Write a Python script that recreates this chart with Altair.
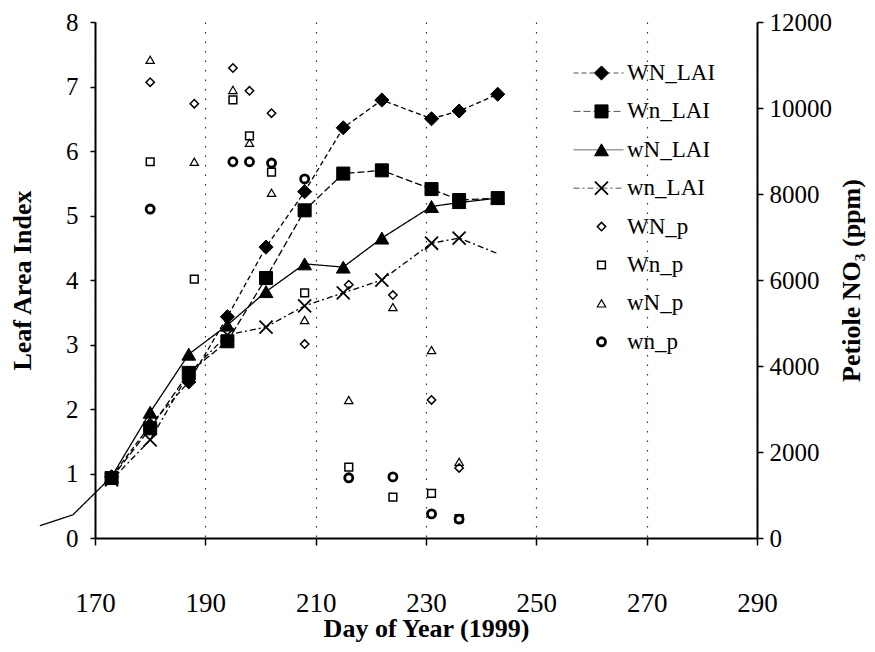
import altair as alt
import pandas as pd

FONT = "Liberation Serif"

# ---------------- data ----------------
lai_series = ["WN_LAI", "Wn_LAI", "wN_LAI", "wn_LAI"]
p_series = ["WN_p", "Wn_p", "wN_p", "wn_p"]

lai_days = [173, 180, 187, 194, 201, 208, 215, 222, 231, 236, 243]
WN_LAI = [0.95, 1.75, 2.42, 3.43, 4.51, 5.37, 6.36, 6.79, 6.50, 6.62, 6.88]
Wn_LAI = [0.93, 1.70, 2.56, 3.05, 4.03, 5.08, 5.65, 5.70, 5.41, 5.24, 5.27]
wN_LAI = [0.95, 1.95, 2.85, 3.30, 3.82, 4.25, 4.20, 4.65, 5.14, 5.20, 5.27]
wn_LAI = [0.90, 1.52, 2.55, 3.15, 3.27, 3.60, 3.80, 4.00, 4.57, 4.65, 4.41]

# early part of the curve drawn before day 170 (no markers)
lead_days = [160, 166]
lead_LAI = [0.19, 0.36]

p_days = [180, 188, 195, 198, 202, 208, 216, 224, 231, 236]
WN_p = [10600, 10100, 10930, 10400, 9880, 4510, 5890, 5650, 3210, 1630]
Wn_p = [8750, 6020, 10190, 9350, 8510, 5700, 1650, 950, 1040, 450]
wN_p = [11120, 8750, 10420, 9190, 8030, 5070, 3210, 5370, 4370, 1770]
wn_p = [7650, None, 8750, 8750, 8720, 8350, 1400, 1420, 560, 440]

x_ticks = [170, 190, 210, 230, 250, 270, 290]
lai_ticks = [0, 1, 2, 3, 4, 5, 6, 7, 8]
p_ticks = [0, 2000, 4000, 6000, 8000, 10000, 12000]

# ---------------- tables ----------------
lai_vals = dict(zip(lai_series, [WN_LAI, Wn_LAI, wN_LAI, wn_LAI]))
p_vals = dict(zip(p_series, [WN_p, Wn_p, wN_p, wn_p]))

line_rows, lai_pt_rows, p_rows = [], [], []
for s in lai_series:
    days = list(lai_days)
    vals = list(lai_vals[s])
    if s == "wN_LAI":
        days = lead_days + days
        vals = lead_LAI + vals
    for d, v in zip(days, vals):
        line_rows.append({"day": d, "lai": v, "line_series": s})
    mk_days = lai_days[:-1] if s == "wn_LAI" else lai_days
    for d, v in zip(mk_days, lai_vals[s]):
        lai_pt_rows.append({"day": d, "lai": v, "series": s})
for s in p_series:
    for d, v in zip(p_days, p_vals[s]):
        if v is not None:
            p_rows.append({"day": d, "ppm": v, "series": s})

df_lines = pd.DataFrame(line_rows)
df_lai = pd.DataFrame(lai_pt_rows)
df_p = pd.DataFrame(p_rows)

all_series = lai_series + p_series
X_PATH = "M-1,-1L1,1M-1,1L1,-1"

# ---------------- scales / axes ----------------
x_enc = alt.X(
    "day:Q",
    scale=alt.Scale(domain=[170, 290], nice=False, zero=False),
    axis=alt.Axis(
        values=x_ticks, title="Day of Year (1999)", grid=True,
        gridDash=[1.5, 8], gridColor="#333", gridWidth=1.2,
        labelFontSize=27, labelPadding=45, tickSize=7, labelFlush=False,
        titleFontSize=26, titleFontWeight="bold",
        titleY=98, titleBaseline="alphabetic",
    ),
)
lai_axis = alt.Axis(
    values=lai_ticks, title="Leaf Area Index", grid=False, orient="left",
    labelFontSize=25, labelPadding=12, tickSize=5,
    titleFontSize=26, titlePadding=30, titleFontWeight="bold",
)
y_lai = alt.Y("lai:Q", scale=alt.Scale(domain=[0, 8], nice=False), axis=lai_axis)
y_p = alt.Y(
    "ppm:Q",
    scale=alt.Scale(domain=[0, 12000], nice=False),
    axis=alt.Axis(
        values=p_ticks, format="d", title="Petiole NO₃ (ppm)", grid=False, orient="right",
        labelFontSize=25, labelPadding=6, tickSize=6,
        titleFontSize=26, titlePadding=33, titleFontWeight="bold", titleAngle=270,
    ),
)

leg = alt.Legend(
    title=None, orient="none", legendX=495, legendY=39,
    labelFontSize=23, labelFont=FONT, rowPadding=14.4, labelOffset=14,
    symbolStrokeColor="black", clipHeight=24,
)
shape_enc = alt.Shape(
    "series:N",
    scale=alt.Scale(domain=all_series,
                    range=["diamond", "square", "triangle-up", X_PATH,
                           "diamond", "square", "triangle-up", "circle"]),
    legend=leg,
)
fill_enc = alt.Fill(
    "series:N",
    scale=alt.Scale(domain=all_series,
                    range=["black", "black", "black", "transparent",
                           "transparent", "transparent", "transparent", "transparent"]),
    legend=leg,
)
stroke_enc = alt.Stroke(
    "series:N",
    scale=alt.Scale(domain=all_series, range=["black"] * 8),
    legend=leg,
)
size_enc = alt.Size(
    "series:N",
    scale=alt.Scale(type="ordinal", domain=all_series,
                    range=[200, 170, 190, 170, 70, 60, 70, 65]),
    legend=leg,
)
sw_enc = alt.StrokeWidth(
    "series:N",
    scale=alt.Scale(type="ordinal", domain=all_series,
                    range=[1, 1, 1, 1.8, 1.5, 1.5, 1.2, 2.8]),
    legend=leg,
)

line_leg = alt.Legend(
    title=None, orient="none", legendX=478, legendY=39,
    symbolType="stroke", symbolSize=2500, symbolStrokeWidth=1,
    symbolStrokeColor="#555", labelFontSize=10, labelExpr="''",
    rowPadding=14.4, labelOffset=0, clipHeight=24,
)

lines = alt.Chart(df_lines).mark_line(color="black", strokeWidth=1.3).encode(
    x=x_enc,
    y=y_lai,
    strokeDash=alt.StrokeDash(
        "line_series:N",
        scale=alt.Scale(domain=lai_series,
                        range=[[5, 3], [7, 3], [1, 0], [6, 3, 2, 3]]),
        legend=line_leg,
    ),
)

lai_pts = alt.Chart(df_lai).mark_point(opacity=1).encode(
    x=x_enc, y=y_lai, shape=shape_enc, fill=fill_enc, stroke=stroke_enc,
    size=size_enc, strokeWidth=sw_enc,
)

p_pts = alt.Chart(df_p).mark_point(opacity=1).encode(
    x=x_enc, y=y_p, shape=shape_enc, fill=fill_enc, stroke=stroke_enc,
    size=size_enc, strokeWidth=sw_enc,
)

left = alt.layer(lines, lai_pts)
chart = (
    alt.layer(left, p_pts)
    .resolve_scale(y="independent")
    .properties(
        width=662, height=516,
        autosize=alt.AutoSizeParams(type="none"),
        padding={"left": 87, "top": 14, "right": 110, "bottom": 105},
        background="white",
    )
    .configure_view(stroke=None)
    .configure_axis(
        labelFont=FONT, titleFont=FONT, labelColor="black", titleColor="black",
        domainColor="black", tickColor="black", domainWidth=2, tickWidth=1.5,
    )
    .configure_legend(labelFont=FONT)
)

chart.save("out.html", embed_options={"renderer": "svg", "actions": False})
